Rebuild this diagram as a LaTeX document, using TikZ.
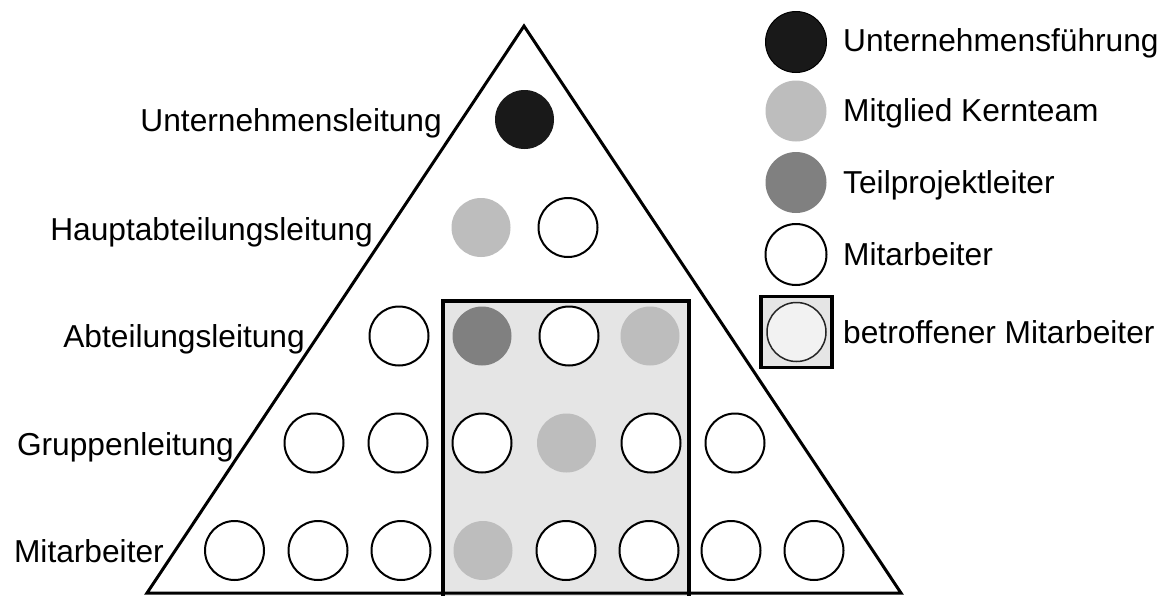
\documentclass[tikz,border=0pt]{standalone}
\usepackage{fontspec}
\setmainfont{Liberation Sans}
\begin{document}
\begin{tikzpicture}[x=1pt,y=-1pt,
  lbl/.style={font=\fontsize{31.7}{36}\selectfont, inner sep=0pt},
  person/.style={circle, minimum size=59pt, inner sep=0pt},
  plain/.style={person, draw=black, line width=2pt, fill=white},
  lead/.style={person, fill=black!90},
  core/.style={person, fill=black!26},
  sub/.style={person, fill=black!50}]
\useasboundingbox (0,0) rectangle (1167,595);
\fill[white] (0,0) rectangle (1167,595);

% affected area
\draw[line width=3.5pt, fill=black!10] (443,597) -- (443,301) -- (689,301) -- (689,597);

% pyramid outline
\coordinate (apex) at (524,26);
\coordinate (bl) at (147,593);
\coordinate (br) at (901,593);
\draw[line width=3pt, line join=miter] (bl) -- (apex) -- (br) -- cycle;

% level labels
\node[lbl, anchor=base east] (l1) at (442,131) {Unternehmensleitung};
\node[lbl, anchor=base east] (l2) at (373,240) {Hauptabteilungsleitung};
\node[lbl, anchor=base east] (l3) at (305,347) {Abteilungsleitung};
\node[lbl, anchor=base east] (l4) at (234,455) {Gruppenleitung};
\node[lbl, anchor=base east] (l5) at (164,562) {Mitarbeiter};

% row 1
\node[lead] (r1a) at (524.5,119.5) {};
% row 2
\node[core]  (r2a) at (481,227.5) {};
\node[plain] (r2b) at (568,227.5) {};
% row 3
\node[plain] (r3a) at (399,336) {};
\node[sub]   (r3b) at (482,336) {};
\node[plain] (r3c) at (569,336) {};
\node[core]  (r3d) at (650,336) {};
% row 4
\node[plain] (r4a) at (314,443) {};
\node[plain] (r4b) at (398,443) {};
\node[plain] (r4c) at (482,443) {};
\node[core]  (r4d) at (566.5,443) {};
\node[plain] (r4e) at (651,443) {};
\node[plain] (r4f) at (735,443) {};
% row 5
\node[plain] (r5a) at (234.5,550.5) {};
\node[plain] (r5b) at (318,550.5) {};
\node[plain] (r5c) at (401,550.5) {};
\node[core]  (r5d) at (483,550.5) {};
\node[plain] (r5e) at (566,550.5) {};
\node[plain] (r5f) at (649,550.5) {};
\node[plain] (r5g) at (731,550.5) {};
\node[plain] (r5h) at (814,550.5) {};

% legend
\node[lead, draw=black, line width=1pt, minimum size=61pt] (k1) at (796,42) {};
\node[core, minimum size=61pt] (k2) at (796,111) {};
\node[sub, minimum size=61pt] (k3) at (796,182.5) {};
\node[plain, minimum size=61pt] (k4) at (796,254.5) {};
\node[draw=black, line width=3.5pt, fill=black!10, minimum width=71pt, minimum height=71pt, inner sep=0pt] (k5box) at (796.5,332) {};
\node[person, draw=black!85, line width=1.5pt, fill=black!5, minimum size=59pt] (k5) at (796.5,332) {};

\node[lbl, anchor=base west] (t1) at (843,51) {Unternehmensführung};
\node[lbl, anchor=base west] (t2) at (843,121) {Mitglied Kernteam};
\node[lbl, anchor=base west] (t3) at (843,193) {Teilprojektleiter};
\node[lbl, anchor=base west] (t4) at (843,265) {Mitarbeiter};
\node[lbl, anchor=base west] (t5) at (843,343) {betroffener Mitarbeiter};
\end{tikzpicture}
\end{document}
